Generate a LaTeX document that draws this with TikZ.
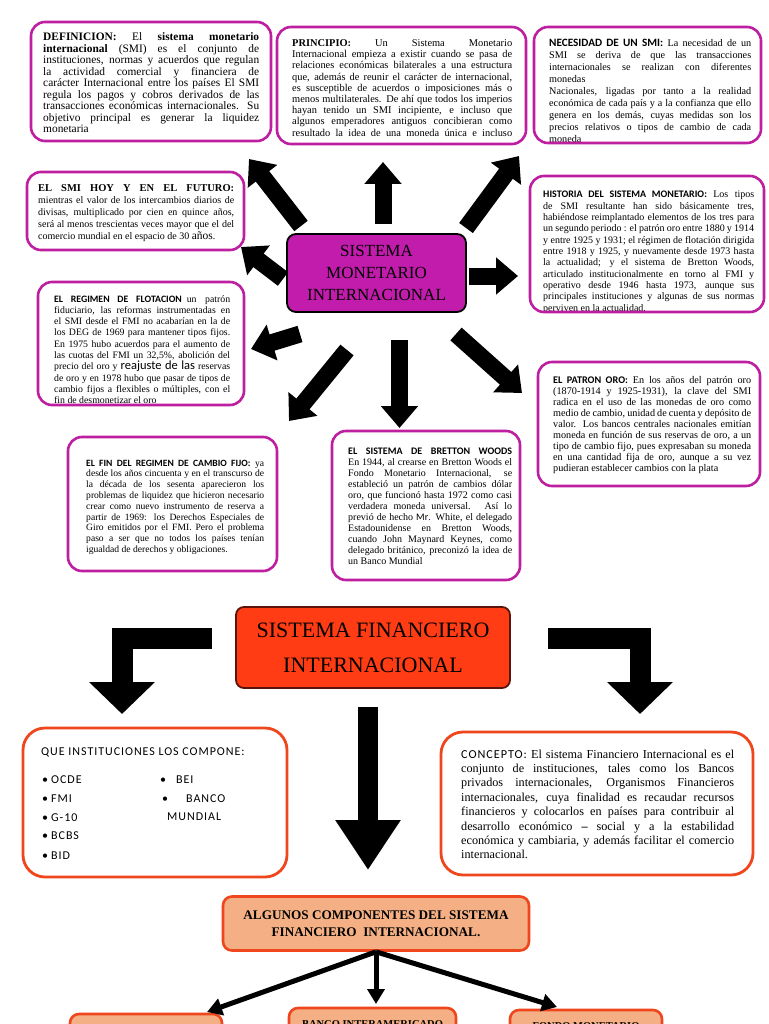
\documentclass[tikz,border=0pt]{standalone}
\usepackage{fontspec}
\setmainfont{Liberation Serif}
\setsansfont{Carlito}
\newfontfamily\calsp[LetterSpace=8]{Carlito}
\usetikzlibrary{arrows.meta}
\definecolor{magb}{RGB}{190,30,160}
\definecolor{magf}{RGB}{194,28,172}
\definecolor{orb}{RGB}{240,70,30}
\definecolor{sfif}{RGB}{255,60,20}
\definecolor{sfib}{RGB}{90,20,10}
\definecolor{lor}{RGB}{244,176,132}
\newcommand\tsz[2]{\fontsize{#1}{#2}\selectfont}
\newcommand\hsb[1]{{\sffamily\bfseries #1}}
\tikzset{
  mbox/.style={draw=magb, line width=2.6pt, rounded corners=14pt, inner sep=0pt},
  obox/.style={draw=orb, line width=2.8pt, rounded corners=22pt, inner sep=0pt},
  txt/.style={inner sep=0pt, anchor=base west, align=justify},
  itm/.style={inner sep=0pt, anchor=base west, font=\calsp\tsz{12}{13}},
  bigarrow/.style={line width=17pt, -{Triangle[width=36pt,length=22pt]}},
  elbow/.style={line width=21pt, line join=miter, -{Triangle[width=64pt,length=32pt]}},
  thinarrow/.style={line width=5pt, -{Triangle[width=17pt,length=15pt]}},
}
% #1 style, #2 name, #3 x1, #4 y1, #5 x2, #6 y2, #7 text node
\newcommand\infobox[7]{%
  \begin{scope}
    \clip[rounded corners=12pt] (#3+1.3,#4+1.3) rectangle (#5-1.3,#6-1.3);
    #7
  \end{scope}
  \node[#1, minimum width={#5-#3}, minimum height={#6-#4}] (#2) at ({(#3+#5)/2},{(#4+#6)/2}) {};
}
\begin{document}
\begin{tikzpicture}[x=1pt,y=-1pt]
\useasboundingbox (0,0) rectangle (768,1024);
\fill[white] (0,0) rectangle (768,1024);
\clip (0,0) rectangle (768,1024);

% ---------- top boxes ----------
\infobox{mbox}{def}{31}{22}{271}{141}{%
\node[txt,text width=216pt,font=\tsz{11.4}{11.5}] (tdef) at (43,41) {%
\textbf{DEFINICION:} El \textbf{sistema monetario}\linebreak
\textbf{internacional} (SMI) es el conjunto de\linebreak
instituciones, normas y acuerdos que regulan\linebreak
la actividad comercial y financiera de\linebreak
carácter Internacional entre los países El SMI\linebreak
regula los pagos y cobros derivados de las\linebreak
transacciones económicas internacionales. Su\linebreak
objetivo principal es generar la liquidez\linebreak
monetaria};}

\infobox{mbox}{pri}{277}{27}{526}{144}{%
\node[txt,text width=220pt,font=\tsz{10.4}{11.2}] (tpri) at (292,46.5) {%
\textbf{PRINCIPIO:} Un Sistema Monetario\linebreak
Internacional empieza a existir cuando se pasa de\linebreak
relaciones económicas bilaterales a una estructura\linebreak
que, además de reunir el carácter de internacional,\linebreak
es susceptible de acuerdos o imposiciones más o\linebreak
menos multilaterales. De ahí que todos los imperios\linebreak
hayan tenido un SMI incipiente, e incluso que\linebreak
algunos emperadores antiguos concibieran como\linebreak
resultado la idea de una moneda única e incluso\parfillskip=0pt\par};}

\infobox{mbox}{nec}{534}{27}{761}{143}{%
\node[txt,text width=202pt,font=\tsz{10.2}{12}] (tnec) at (549,46.5) {%
{\sffamily\bfseries\tsz{11.2}{12}NECESIDAD DE UN SMI:} La necesidad de un\linebreak
SMI se deriva de que las transacciones\linebreak
internacionales se realizan con diferentes\linebreak
monedas\\
Nacionales, ligadas por tanto a la realidad\linebreak
económica de cada país y a la confianza que ello\linebreak
genera en los demás, cuyas medidas son los\linebreak
precios relativos o tipos de cambio de cada\linebreak
moneda};}

\infobox{mbox}{hoy}{27}{172}{244}{250}{%
\node[txt,text width=196pt,font=\tsz{10}{11.8}] (thoy) at (38,192) {%
\textbf{\tsz{10.5}{11.8}EL SMI HOY Y EN EL FUTURO:}\linebreak
mientras el valor de los intercambios diarios de\linebreak
divisas, multiplicado por cien en quince años,\linebreak
será al menos trescientas veces mayor que el del\linebreak
comercio mundial en el espacio de 30 {\tsz{11.5}{11.8}años}.};}

\infobox{mbox}{his}{530}{176}{764}{312}{%
\node[txt,text width=211pt,font=\tsz{10}{11.3}] (this) at (543,198) {%
\hsb{HISTORIA DEL SISTEMA MONETARIO:} Los tipos\linebreak
de SMI resultante han sido básicamente tres,\linebreak
habiéndose reimplantado elementos de los tres para\linebreak
un segundo periodo : el patrón oro entre 1880 y 1914\linebreak
y entre 1925 y 1931; el régimen de flotación dirigida\linebreak
entre 1918 y 1925, y nuevamente desde 1973 hasta\linebreak
la actualidad; y el sistema de Bretton Woods,\linebreak
articulado institucionalmente en torno al FMI y\linebreak
operativo desde 1946 hasta 1973, aunque sus\linebreak
principales instituciones y algunas de sus normas\linebreak
perviven en la actualidad.};}

\infobox{mbox}{flo}{38}{282}{244}{405}{%
\node[txt,text width=176pt,font=\tsz{9.8}{11.3}] (tflo) at (54,302) {%
\hsb{EL REGIMEN DE FLOTACION}\enspace un patrón\linebreak
fiduciario, las reformas instrumentadas en\linebreak
el SMI desde el FMI no acabarían en la de\linebreak
los DEG de 1969 para mantener tipos fijos.\linebreak
En 1975 hubo acuerdos para el aumento de\linebreak
las cuotas del FMI un 32,5\%, abolición del\linebreak
precio del oro y {\sffamily\tsz{12.5}{11.3}reajuste de las} reservas\linebreak
de oro y en 1978 hubo que pasar de tipos de\linebreak
cambio fijos a flexibles o múltiples, con el\linebreak
fin de desmonetizar el oro};}

\infobox{mbox}{oro}{538}{362}{760}{486}{%
\node[txt,text width=198pt,font=\tsz{10.2}{11}] (toro) at (553,383.5) {%
\hsb{EL PATRON ORO:} En los años del patrón oro\linebreak
(1870-1914 y 1925-1931), la clave del SMI\linebreak
radica en el uso de las monedas de oro como\linebreak
medio de cambio, unidad de cuenta y depósito de\linebreak
valor. Los bancos centrales nacionales emitían\linebreak
moneda en función de sus reservas de oro, a un\linebreak
tipo de cambio fijo, pues expresaban su moneda\linebreak
en una cantidad fija de oro, aunque a su vez\linebreak
pudieran establecer cambios con la plata};}

\infobox{mbox}{fin}{68}{437}{277}{571}{%
\node[txt,text width=178pt,font=\tsz{9.6}{10.8}] (tfin) at (86,466) {%
\hsb{EL FIN DEL REGIMEN DE CAMBIO FIJO:} ya\linebreak
desde los años cincuenta y en el transcurso de\linebreak
la década de los sesenta aparecieron los\linebreak
problemas de liquidez que hicieron necesario\linebreak
crear como nuevo instrumento de reserva a\linebreak
partir de 1969: los Derechos Especiales de\linebreak
Giro emitidos por el FMI. Pero el problema\linebreak
paso a ser que no todos los países tenían\linebreak
igualdad de derechos y obligaciones.};}

\infobox{mbox}{bre}{332}{431}{520}{580}{%
\node[txt,text width=164pt,font=\tsz{10}{11}] (tbre) at (348,454.5) {%
\hsb{EL SISTEMA DE BRETTON WOODS}\linebreak
En 1944, al crearse en Bretton Woods el\linebreak
Fondo Monetario Internacional, se\linebreak
estableció un patrón de cambios dólar\linebreak
oro, que funcionó hasta 1972 como casi\linebreak
verdadera moneda universal. Así lo\linebreak
previó de hecho {\sffamily Mr}{\color{blue}.} White, el delegado\linebreak
Estadounidense en Bretton Woods,\linebreak
cuando John Maynard Keynes, como\linebreak
delegado británico, preconizó la idea de\linebreak
un Banco Mundial};}

% ---------- centre ----------
\node[draw=black, line width=1.8pt, fill=magf, rounded corners=9pt, minimum width=179pt, minimum height=78pt,
      align=center, font=\tsz{17}{21.8}, inner sep=0pt] (smi) at (376.5,273) {SISTEMA\\MONETARIO\\INTERNACIONAL};

\coordinate (a1s) at (301,226); \coordinate (a1e) at (249,159);
\coordinate (a2s) at (383,224); \coordinate (a2e) at (383,162);
\coordinate (a3s) at (466,228); \coordinate (a3e) at (519,156);
\coordinate (a4s) at (283,279); \coordinate (a4e) at (241,247);
\coordinate (a5s) at (469,276); \coordinate (a5e) at (518,276);
\coordinate (a6s) at (300,334); \coordinate (a6e) at (251,349);
\coordinate (a7s) at (347,350); \coordinate (a7e) at (289,421);
\coordinate (a8s) at (399.5,340); \coordinate (a8e) at (399.5,428);
\coordinate (a9s) at (456,334); \coordinate (a9e) at (522,393);
\foreach \i in {1,...,9} {\draw[bigarrow] (a\i s) -- (a\i e);}

% ---------- financial system ----------
\node[draw=sfib, line width=1.8pt, fill=sfif, rounded corners=8pt, minimum width=274pt, minimum height=81pt,
      align=center, font=\tsz{22}{35}, inner sep=0pt] (sfi) at (373,647.5) {SISTEMA FINANCIERO\\INTERNACIONAL};

\coordinate (l1) at (212,638); \coordinate (l2) at (122,638); \coordinate (l3) at (122,714);
\coordinate (r1) at (548,638); \coordinate (r2) at (640,638); \coordinate (r3) at (640,714);
\coordinate (c1) at (368,707); \coordinate (c2) at (368,870);
\draw[elbow] (l1) -- (l2) -- (l3);
\draw[elbow] (r1) -- (r2) -- (r3);
\draw[line width=20pt, -{Triangle[width=62pt,length=50pt]}] (c1) -- (c2);

% institutions
\node[obox, minimum width=264pt, minimum height=149pt] (inst) at (155,802.5) {};
\node[itm] (insth) at (41,755) {QUE INSTITUCIONES LOS COMPONE:};
\node[itm] (i1) at (42,783) {•\hspace{3pt}OCDE};
\node[itm] (i2) at (42,802) {•\hspace{3pt}FMI};
\node[itm] (i3) at (42,821) {•\hspace{3pt}G-10};
\node[itm] (i4) at (42,839.5) {•\hspace{3pt}BCBS};
\node[itm] (i5) at (42,859) {•\hspace{3pt}BID};
\node[itm] (j1) at (160,783) {•\hspace{10pt}BEI};
\node[itm] (j2) at (162,802) {•\hspace{18pt}BANCO};
\node[itm] (j3) at (167,820.5) {MUNDIAL};

% concept
\infobox{obox}{conc}{441}{732}{753}{875}{%
\node[txt,text width=273pt,font=\tsz{12.2}{14.4}] (tconc) at (461,758) {%
{\calsp CONCEPTO:} El sistema Financiero Internacional es el\linebreak
conjunto de instituciones, tales como los Bancos\linebreak
privados internacionales, Organismos Financieros\linebreak
internacionales, cuya finalidad es recaudar recursos\linebreak
financieros y colocarlos en países para contribuir al\linebreak
desarrollo económico \textbf{–} social y a la estabilidad\linebreak
económica y cambiaria, y además facilitar el comercio\linebreak
internacional.};}

% components
\node[draw=orb, line width=2.6pt, fill=lor, rounded corners=9pt, minimum width=306pt, minimum height=54pt,
      align=center, font=\bfseries\tsz{13.2}{17.5}, inner sep=0pt] (alg) at (376,923.5)
      {ALGUNOS COMPONENTES DEL SISTEMA\\FINANCIERO\ \ INTERNACIONAL.};
\node[draw=orb, line width=2.6pt, fill=lor, rounded corners=9pt, minimum width=152pt, minimum height=60pt] (bl) at (146,1044) {};
\node[draw=orb, line width=2.6pt, fill=lor, rounded corners=9pt, minimum width=167pt, minimum height=62pt] (bm) at (372.5,1039) {};
\node[draw=orb, line width=2.6pt, fill=lor, rounded corners=9pt, minimum width=152pt, minimum height=60pt] (br) at (586,1040) {};
\node[inner sep=0pt, anchor=base, font=\bfseries\tsz{10.5}{12}] (bmt) at (372.5,1027.5) {BANCO INTERAMERICADO};
\node[inner sep=0pt, anchor=base, font=\bfseries\tsz{10.5}{12}] (brt) at (586,1029.5) {FONDO MONETARIO};

\coordinate (t1) at (207,1012); \coordinate (t2) at (376,1004); \coordinate (t3) at (557,1007);
\draw[thinarrow] (alg.south) -- (t1);
\draw[thinarrow] (alg.south) -- (t2);
\draw[thinarrow] (alg.south) -- (t3);
\end{tikzpicture}
\end{document}
